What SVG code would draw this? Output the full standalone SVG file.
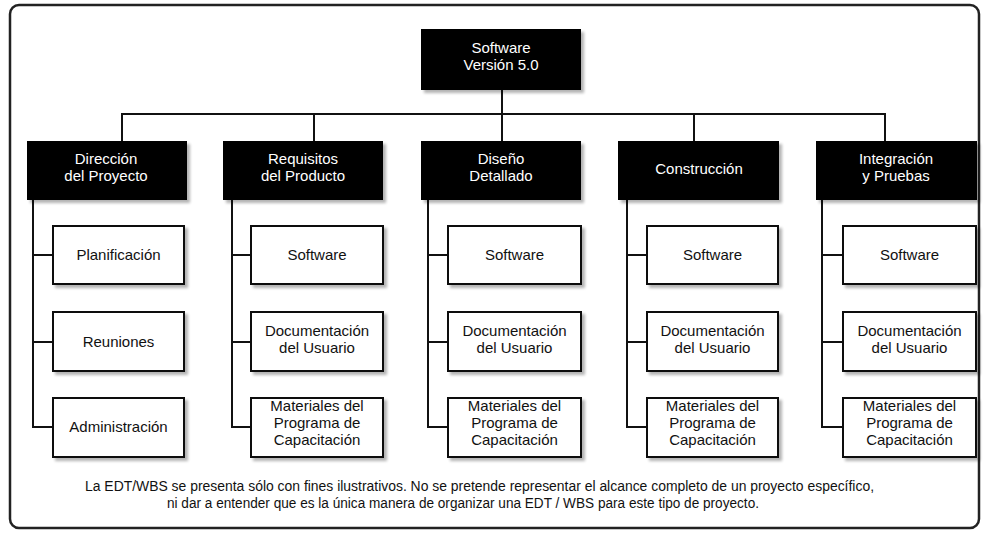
<svg xmlns="http://www.w3.org/2000/svg" width="984" height="537" viewBox="0 0 984 537">
<defs>
<filter id="sh" x="-10%" y="-10%" width="125%" height="130%">
<feGaussianBlur in="SourceAlpha" stdDeviation="1.6"/>
<feOffset dx="2.5" dy="2.5" result="b"/>
<feComponentTransfer><feFuncA type="linear" slope="0.3"/></feComponentTransfer>
<feMerge><feMergeNode/><feMergeNode in="SourceGraphic"/></feMerge>
</filter>
</defs>
<style>
text{font-family:"Liberation Sans",Arial,sans-serif;font-size:15px;text-anchor:middle}
.dark rect{fill:#000;filter:url(#sh)}
.dark text{fill:#fff}
.leaf rect{fill:#fff;stroke:#111;stroke-width:2;filter:url(#sh)}
.leaf text{fill:#111}
.conn{fill:none;stroke:#111;stroke-width:2}
.note{font-size:14px;text-anchor:start;fill:#111}
</style>
<rect x="10" y="5" width="969" height="523" rx="9" fill="#fff" stroke="#222" stroke-width="2.5"/>
<g id="connectors" class="conn">
<path d="M502 90V141M122 141V114H885V141M314 114V141M694 114V141"/>
<path d="M33 200V427H53M33 255H53M33 342H53"/>
<path d="M232 200V427H251M232 255H251M232 342H251"/>
<path d="M428 200V427H448M428 255H448M428 342H448"/>
<path d="M627 200V427H647M627 255H647M627 342H647"/>
<path d="M822 200V427H843M822 255H843M822 342H843"/>
</g>
<g id="n-root" class="dark"><rect x="421" y="29" width="160" height="61"/><text x="501" y="53">Software</text><text x="501" y="70">Versión 5.0</text></g>
<g id="n-direccion" class="dark"><rect x="27" y="141" width="160" height="59"/><text x="106" y="164">Dirección</text><text x="106" y="181">del Proyecto</text></g>
<g id="n-requisitos" class="dark"><rect x="223" y="141" width="160" height="59"/><text x="303" y="164">Requisitos</text><text x="303" y="181">del Producto</text></g>
<g id="n-diseno" class="dark"><rect x="421" y="141" width="160" height="59"/><text x="501" y="164">Diseño</text><text x="501" y="181">Detallado</text></g>
<g id="n-construccion" class="dark"><rect x="618" y="141" width="161" height="59"/><text x="699" y="174">Construcción</text></g>
<g id="n-integracion" class="dark"><rect x="816" y="141" width="161" height="59"/><text x="896" y="164">Integración</text><text x="896" y="181">y Pruebas</text></g>

<g id="n-planificacion" class="leaf"><rect x="53" y="226" width="131" height="58"/><text x="118.5" y="260">Planificación</text></g>
<g id="n-reuniones" class="leaf"><rect x="53" y="312" width="131" height="59"/><text x="118.5" y="347">Reuniones</text></g>
<g id="n-administracion" class="leaf"><rect x="53" y="398" width="131" height="59"/><text x="118.5" y="432">Administración</text></g>

<g id="n-req-sw" class="leaf"><rect x="251" y="226" width="132" height="58"/><text x="317" y="260">Software</text></g>
<g id="n-req-doc" class="leaf"><rect x="251" y="312" width="132" height="59"/><text x="317" y="336">Documentación</text><text x="317" y="353">del Usuario</text></g>
<g id="n-req-mat" class="leaf"><rect x="251" y="398" width="132" height="59"/><text x="317" y="411">Materiales del</text><text x="317" y="428">Programa de</text><text x="317" y="445">Capacitación</text></g>

<g id="n-dis-sw" class="leaf"><rect x="448" y="226" width="133" height="58"/><text x="514.5" y="260">Software</text></g>
<g id="n-dis-doc" class="leaf"><rect x="448" y="312" width="133" height="59"/><text x="514.5" y="336">Documentación</text><text x="514.5" y="353">del Usuario</text></g>
<g id="n-dis-mat" class="leaf"><rect x="448" y="398" width="133" height="59"/><text x="514.5" y="411">Materiales del</text><text x="514.5" y="428">Programa de</text><text x="514.5" y="445">Capacitación</text></g>

<g id="n-con-sw" class="leaf"><rect x="647" y="226" width="131" height="58"/><text x="712.5" y="260">Software</text></g>
<g id="n-con-doc" class="leaf"><rect x="647" y="312" width="131" height="59"/><text x="712.5" y="336">Documentación</text><text x="712.5" y="353">del Usuario</text></g>
<g id="n-con-mat" class="leaf"><rect x="647" y="398" width="131" height="59"/><text x="712.5" y="411">Materiales del</text><text x="712.5" y="428">Programa de</text><text x="712.5" y="445">Capacitación</text></g>

<g id="n-int-sw" class="leaf"><rect x="843" y="226" width="133" height="58"/><text x="909.5" y="260">Software</text></g>
<g id="n-int-doc" class="leaf"><rect x="843" y="312" width="133" height="59"/><text x="909.5" y="336">Documentación</text><text x="909.5" y="353">del Usuario</text></g>
<g id="n-int-mat" class="leaf"><rect x="843" y="398" width="133" height="59"/><text x="909.5" y="411">Materiales del</text><text x="909.5" y="428">Programa de</text><text x="909.5" y="445">Capacitación</text></g>

<g id="note">
<text class="note" x="85" y="491" textLength="789" lengthAdjust="spacingAndGlyphs">La EDT/WBS se presenta sólo con fines ilustrativos. No se pretende representar el alcance completo de un proyecto específico,</text>
<text class="note" x="167" y="508" textLength="592" lengthAdjust="spacingAndGlyphs">ni dar a entender que es la única manera de organizar una EDT / WBS para este tipo de proyecto.</text>
</g>
</svg>
